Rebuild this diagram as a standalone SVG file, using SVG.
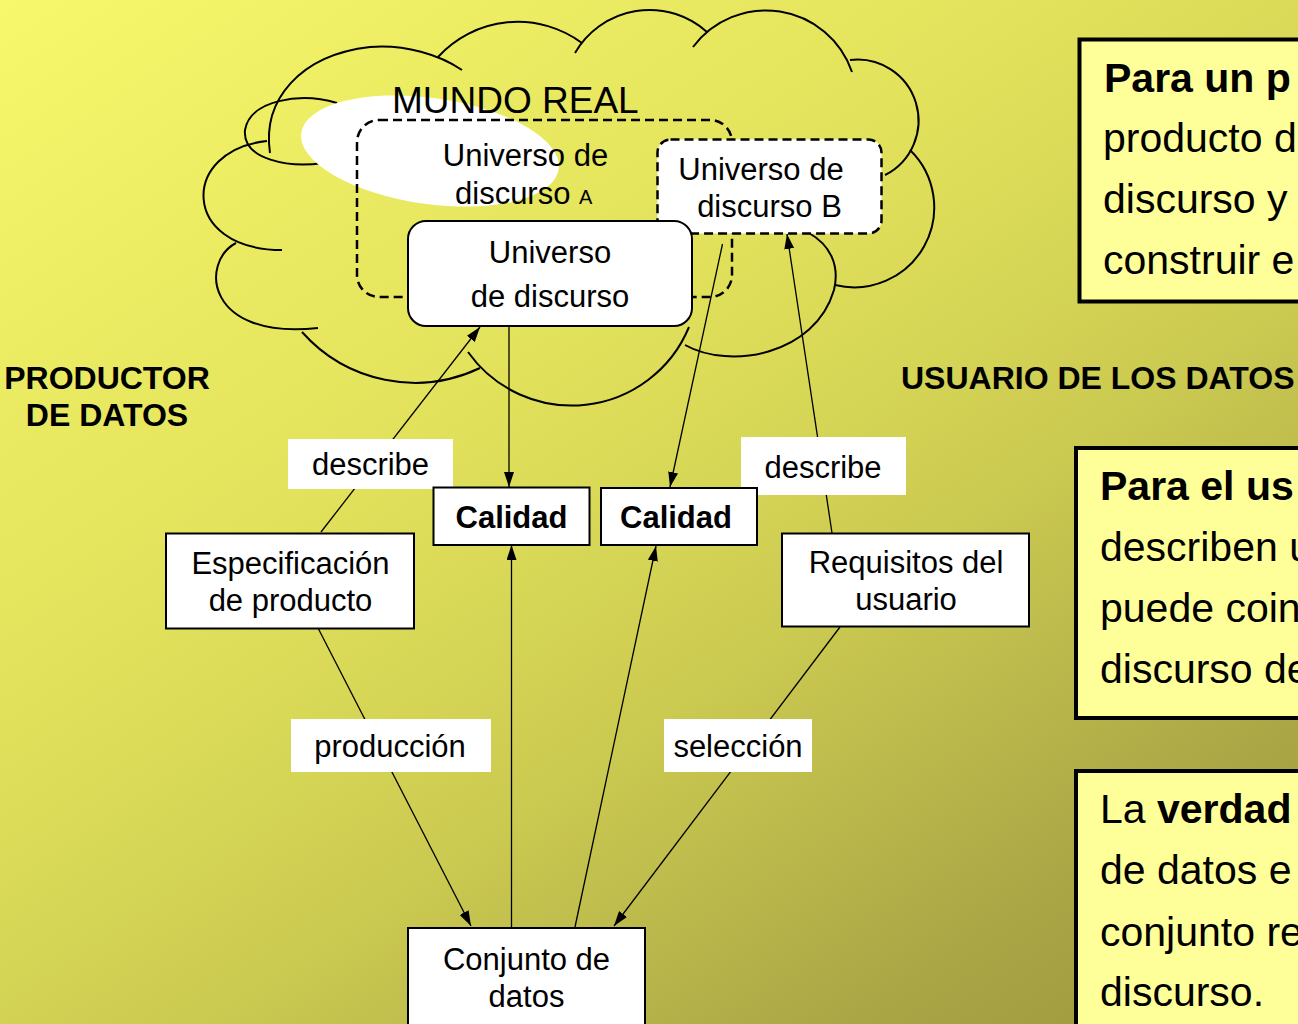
<svg xmlns="http://www.w3.org/2000/svg" width="1298" height="1024" viewBox="0 0 1298 1024">
<defs>
<linearGradient id="bg" gradientUnits="userSpaceOnUse" x1="0" y1="0" x2="860" y2="1298">
<stop offset="0" stop-color="#F8F86C"/>
<stop offset="0.37" stop-color="#E2E25C"/>
<stop offset="0.47" stop-color="#DADA58"/>
<stop offset="0.61" stop-color="#CCCB51"/>
<stop offset="0.85" stop-color="#AAA646"/>
<stop offset="1" stop-color="#9C983C"/>
</linearGradient>
<marker id="ah" viewBox="0 0 15 10" refX="15" refY="5" markerWidth="15" markerHeight="10" markerUnits="userSpaceOnUse" orient="auto">
<path d="M0,0 L15,5 L0,10 z" fill="#000"/>
</marker>
<style>
text{font-family:"Liberation Sans",Arial,sans-serif;fill:#000}
.t{font-size:31px;text-anchor:middle}
.b{font-weight:bold}
.cloud path{fill:none;stroke:#000;stroke-width:2}
.box{fill:#fff;stroke:#000;stroke-width:2}
.dash{stroke:#000;stroke-width:2.5;stroke-dasharray:9 5}
.edge{stroke:#000;stroke-width:1.3;fill:none;marker-end:url(#ah)}
.line{stroke:#000;stroke-width:1.3;fill:none}
.lbl{fill:#fff}
.note{fill:#FFFF99;stroke:#000;stroke-width:4}
.nt{font-size:41px}
.hd{font-size:32px;font-weight:bold}
</style>
</defs>
<rect x="0" y="0" width="1298" height="1024" fill="url(#bg)"/>

<g id="mundo-real">
<g class="cloud">
<path d="M 270 153 C 262 100 300 55 370 47 C 405 44 440 55 462 70"/>
<path d="M 438 57 A 108 108 0 0 1 582 43"/>
<path d="M 575 53 A 86 86 0 0 1 707 32"/>
<path d="M 693 47 A 91 91 0 0 1 852 72"/>
<path d="M 850 60 A 61 61 0 0 1 885 175"/>
<path d="M 910 150 A 80 80 0 0 1 835 285"/>
<path d="M 685 345 C 730 370 815 355 834 290 C 840 265 830 245 809 233"/>
<path d="M 468 352 A 127 127 0 0 0 689 327"/>
<path d="M 302 332 A 151 151 0 0 0 480 368"/>
<path d="M 236 243 C 200 262 205 340 318 328"/>
<path d="M 267 141 C 180 150 180 250 282 250"/>
<path d="M 337 103 C 300 92 250 100 245 130 C 242 160 290 168 323 163"/>
</g>
<ellipse cx="430" cy="151" rx="130" ry="53" fill="#fff" transform="rotate(8 430 151)"/>
<text x="392" y="113" style="font-size:37px">MUNDO REAL</text>
</g>

<g id="universo-a">
<rect x="357" y="120" width="375" height="177" rx="22" fill="none" class="dash"/>
<text class="t" x="525.5" y="166">Universo de</text>
<text x="455" y="204" style="font-size:31px">discurso <tspan style="font-size:20px">A</tspan></text>
</g>

<g id="universo-b">
<rect x="657.5" y="139.5" width="224" height="94" rx="13" fill="#fff" class="dash"/>
<text class="t" x="761" y="180">Universo de</text>
<text class="t" x="769.5" y="217">discurso B</text>
</g>

<g id="universo">
<rect class="box" x="408" y="221" width="284" height="105" rx="18"/>
<text class="t" x="550" y="263">Universo</text>
<text class="t" x="550" y="307">de discurso</text>
</g>

<g id="connectors">
<path class="edge" d="M 321 532 L 480 327"/>
<path class="edge" d="M 509 327 L 509 487"/>
<path class="edge" d="M 722.5 244 L 670 487"/>
<path class="edge" d="M 832 533 L 787 234"/>
<path class="edge" d="M 511.5 927 L 511.5 545"/>
<path class="edge" d="M 575 927 L 656 546"/>
<path class="edge" d="M 318 628 L 471 926"/>
<path class="edge" d="M 840 627 L 614 926"/>
<rect class="lbl" x="288" y="439" width="165" height="50"/>
<text class="t" x="370.5" y="475">describe</text>
<rect class="lbl" x="741" y="437" width="165" height="58"/>
<text class="t" x="823" y="478">describe</text>
<rect class="lbl" x="291" y="719" width="200" height="53"/>
<text class="t" x="390" y="757">producción</text>
<rect class="lbl" x="664" y="719" width="148" height="53"/>
<text class="t" x="738" y="757">selección</text>
</g>

<g id="calidad-1">
<rect class="box" x="433.5" y="487.5" width="156" height="57.5"/>
<text class="t b" x="511.5" y="528">Calidad</text>
</g>

<g id="calidad-2">
<rect class="box" x="601" y="488" width="156" height="57"/>
<text class="t b" x="676" y="528">Calidad</text>
</g>

<g id="especificacion">
<rect class="box" x="166" y="533.5" width="248" height="95"/>
<text class="t" x="290.5" y="574">Especificación</text>
<text class="t" x="290.5" y="611">de producto</text>
</g>

<g id="requisitos">
<rect class="box" x="782" y="533.5" width="247" height="93"/>
<text class="t" x="906" y="573">Requisitos del</text>
<text class="t" x="906" y="610">usuario</text>
</g>

<g id="conjunto">
<rect class="box" x="408" y="928" width="237" height="110"/>
<text class="t" x="526.5" y="970">Conjunto de</text>
<text class="t" x="526.5" y="1007">datos</text>
</g>

<g id="productor">
<text class="hd" x="107" y="389" text-anchor="middle">PRODUCTOR</text>
<text class="hd" x="107" y="426" text-anchor="middle">DE DATOS</text>
</g>

<g id="usuario">
<text class="hd" x="901" y="389">USUARIO DE LOS DATOS</text>
</g>

<g id="nota-productor">
<rect class="note" x="1079.5" y="39.5" width="240" height="262"/>
<text class="nt b" x="1104" y="92">Para un p</text>
<text class="nt" x="1103" y="152">producto d</text>
<text class="nt" x="1103" y="213">discurso y</text>
<text class="nt" x="1103" y="274">construir e</text>
</g>

<g id="nota-usuario">
<rect class="note" x="1076" y="448" width="240" height="270"/>
<text class="nt b" x="1100" y="500">Para el us</text>
<text class="nt" x="1100" y="561">describen u</text>
<text class="nt" x="1100" y="622">puede coin</text>
<text class="nt" x="1100" y="683">discurso de</text>
</g>

<g id="nota-verdad">
<rect class="note" x="1076" y="771" width="240" height="300"/>
<text class="nt" x="1100" y="823">La <tspan class="b">verdad</tspan></text>
<text class="nt" x="1100" y="884">de datos e</text>
<text class="nt" x="1100" y="946">conjunto re</text>
<text class="nt" x="1100" y="1006">discurso.</text>
</g>
</svg>
